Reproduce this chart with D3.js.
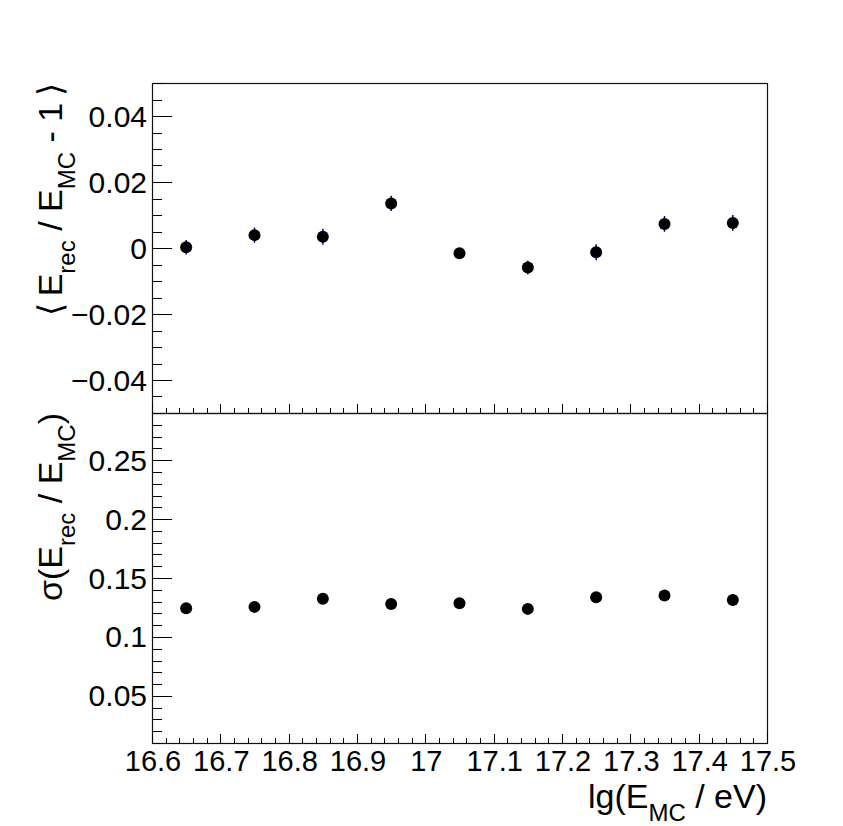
<!DOCTYPE html>
<html>
<head>
<meta charset="utf-8">
<script src="https://cdn.jsdelivr.net/npm/d3@7"></script>
<style>
  body { margin: 0; background: #fff; }
  text { font-family: "Liberation Sans", Arial, Helvetica, sans-serif; fill: #000; }
</style>
</head>
<body>
<div id="chart"></div>
<script>
// lg(E_MC / eV) bin centres
var energies = [16.65, 16.75, 16.85, 16.95, 17.05, 17.15, 17.25, 17.35, 17.45];
// <E_rec / E_MC - 1> and its error
var biasMean = [0.0002, 0.0039, 0.0034, 0.0135, -0.0016, -0.0059, -0.0013, 0.0073, 0.0076];
var biasErr  = [0.0022, 0.0023, 0.0024, 0.0023, 0.0016, 0.0021, 0.0024, 0.0024, 0.0024];
// sigma(E_rec / E_MC)
var resolution = [0.1244, 0.1255, 0.1323, 0.1280, 0.1286, 0.1238, 0.1337, 0.1351, 0.1314];

var xTicks = [16.6, 16.7, 16.8, 16.9, 17, 17.1, 17.2, 17.3, 17.4, 17.5];
var biasTicks = [-0.04, -0.02, 0, 0.02, 0.04];
var resTicks = [0.05, 0.1, 0.15, 0.2, 0.25];

var W = 843, H = 826;
var frameL = 152, frameR = 767, frameT = 83, frameM = 413, frameB = 743;

var svg = d3.select("#chart").append("svg")
  .attr("width", W).attr("height", H);

var x = d3.scaleLinear().domain([16.6, 17.5]).range([frameL, frameR]);
var yBias = d3.scaleLinear().domain([-0.05, 0.05]).range([frameM, frameT]);
var yRes = d3.scaleLinear().domain([0.01, 0.29]).range([frameB, frameM]);

function fmt(d) {
  var s = d3.format("~g")(d);
  return s.replace("-", "\u2212");
}

function drawPanel(y, yTickVals, yMinorStep, showXLabels) {
  var g = svg.append("g");
  var y0 = y.range()[0], y1 = y.range()[1];

  // frame
  g.append("rect")
    .attr("x", frameL + 0.5).attr("y", y1 + 0.5)
    .attr("width", frameR - frameL).attr("height", y0 - y1)
    .attr("fill", "none").attr("stroke", "#111").attr("stroke-width", 1.2);

  // y ticks
  var dom = y.domain();
  var minors = d3.range(Math.ceil(dom[0] / yMinorStep - 1e-6), Math.floor(dom[1] / yMinorStep + 1e-6) + 1)
    .map(function(i) { return i * yMinorStep; });
  g.selectAll(".ymin").data(minors).enter().append("line")
    .attr("x1", frameL).attr("x2", frameL + 10)
    .attr("y1", function(d) { return Math.round(y(d)) + 0.5; })
    .attr("y2", function(d) { return Math.round(y(d)) + 0.5; })
    .attr("stroke", "#000");
  g.selectAll(".ymaj").data(yTickVals).enter().append("line")
    .attr("x1", frameL).attr("x2", frameL + 20)
    .attr("y1", function(d) { return Math.round(y(d)) + 0.5; })
    .attr("y2", function(d) { return Math.round(y(d)) + 0.5; })
    .attr("stroke", "#000");
  g.selectAll(".ylab").data(yTickVals).enter().append("text")
    .attr("x", frameL - 5)
    .attr("y", function(d) { return y(d) + 10.5; })
    .attr("text-anchor", "end")
    .style("font-size", "30px")
    .text(fmt);

  // x ticks along the bottom edge
  var xMinor = d3.range(0, 46).map(function(i) { return 16.6 + i * 0.02; });
  g.selectAll(".xmin").data(xMinor).enter().append("line")
    .attr("x1", function(d) { return Math.round(x(d)) + 0.5; })
    .attr("x2", function(d) { return Math.round(x(d)) + 0.5; })
    .attr("y1", y0).attr("y2", y0 - 5)
    .attr("stroke", "#000");
  g.selectAll(".xmaj").data(xTicks).enter().append("line")
    .attr("x1", function(d) { return Math.round(x(d)) + 0.5; })
    .attr("x2", function(d) { return Math.round(x(d)) + 0.5; })
    .attr("y1", y0).attr("y2", y0 - 9)
    .attr("stroke", "#000");
  if (showXLabels) {
    g.selectAll(".xlab").data(xTicks).enter().append("text")
      .attr("x", function(d) { return x(d) + 1; })
      .attr("y", y0 + 28)
      .attr("text-anchor", "middle")
      .style("font-size", "29px")
      .text(fmt);
  }
  return g;
}

// text with subscripts, parts = [[text, isSub], ...]
function richText(sel, parts) {
  var shift = 0;
  parts.forEach(function(p) {
    var t = sel.append("tspan").text(p[0]);
    if (p[1]) {
      t.attr("dy", 13 - shift).style("font-size", "24px");
      shift = 13;
    } else {
      t.attr("dy", -shift);
      shift = 0;
    }
  });
}

// top panel: bias
var gTop = drawPanel(yBias, biasTicks, 0.005, false);
var pts = energies.map(function(e, i) { return { x: e, y: biasMean[i], err: biasErr[i] }; });
gTop.selectAll(".err").data(pts).enter().append("line")
  .attr("x1", function(d) { return x(d.x); }).attr("x2", function(d) { return x(d.x); })
  .attr("y1", function(d) { return yBias(d.y - d.err); })
  .attr("y2", function(d) { return yBias(d.y + d.err); })
  .attr("stroke", "#0000b0").attr("stroke-width", 1.5);
gTop.selectAll(".pt").data(pts).enter().append("circle")
  .attr("cx", function(d) { return x(d.x); })
  .attr("cy", function(d) { return yBias(d.y); })
  .attr("r", 6).attr("fill", "#000");

var t1 = svg.append("text")
  .attr("transform", "translate(62," + frameT + ") rotate(-90)")
  .attr("text-anchor", "end")
  .style("font-size", "34px");
richText(t1, [["\u27e8\u2009E", false], ["rec", true], [" / E", false], ["MC", true], [" - 1\u2009\u27e9", false]]);

// bottom panel: resolution
var gBot = drawPanel(yRes, resTicks, 0.01, true);
gBot.selectAll(".pt").data(energies).enter().append("circle")
  .attr("cx", function(d) { return x(d); })
  .attr("cy", function(d, i) { return yRes(resolution[i]); })
  .attr("r", 6).attr("fill", "#000");

var t2 = svg.append("text")
  .attr("transform", "translate(62," + frameM + ") rotate(-90)")
  .attr("text-anchor", "end")
  .style("font-size", "34px");
richText(t2, [["\u03c3(E", false], ["rec", true], [" / E", false], ["MC", true], [")", false]]);

var t3 = svg.append("text")
  .attr("x", frameR).attr("y", 808)
  .attr("text-anchor", "end")
  .style("font-size", "34px");
richText(t3, [["lg(E", false], ["MC", true], [" / eV)", false]]);
</script>
</body>
</html>
